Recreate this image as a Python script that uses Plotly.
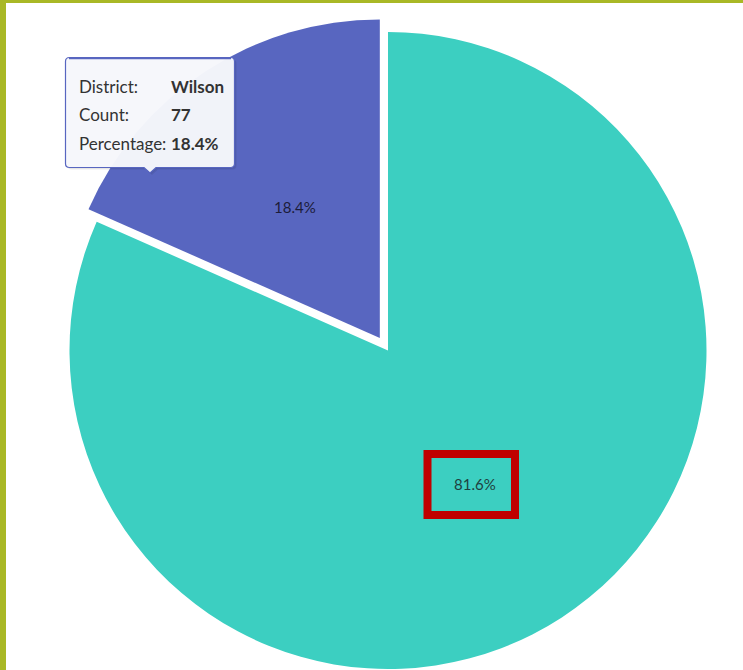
import math
import plotly.graph_objects as go

# Data (drawn clockwise from 12 o'clock, in this order)
districts = ["Other", "Wilson"]
counts = [342, 77]
slice_colors = ["#3ccfc1", "#5866c0"]

W, H = 743, 670
total = sum(counts)
pct = [c / total for c in counts]
hi = districts.index("Wilson")


def px(x):
    return x / W


def py(y):
    return 1 - y / H


# Pie geometry (pixels)
cx, cy, r = 388.0, 350.5, 318.5
pull_px = 15.0

# Mid-angle of the highlighted slice, measured clockwise from 12 o'clock
start = sum(pct[:hi]) * 2 * math.pi
mid = start + pct[hi] * math.pi
ux, uy = math.sin(mid), -math.cos(mid)
dx, dy = ux * pull_px, uy * pull_px

base_domain = dict(x=[px(cx - r), px(cx + r)], y=[py(cy + r), py(cy - r)])
pulled_domain = dict(x=[px(cx + dx - r), px(cx + dx + r)],
                     y=[py(cy + dy + r), py(cy + dy - r)])

common = dict(
    labels=districts,
    values=counts,
    sort=False,
    direction="clockwise",
    rotation=0,
    textposition="inside",
    insidetextorientation="horizontal",
    hoverinfo="skip",
    showlegend=False,
)

clear = "rgba(0,0,0,0)"
fig = go.Figure()
# main body of the pie, highlighted slice left empty
fig.add_trace(go.Pie(
    **common,
    domain=base_domain,
    marker=dict(colors=[clear if i == hi else c for i, c in enumerate(slice_colors)],
                line=dict(width=0)),
    texttemplate=["" if i == hi else "%{percent:.1%}" for i in range(len(counts))],
    textfont=dict(family="Lato", size=15, color="#1f3f40"),
))
# highlighted slice, pulled out from the centre (its label is placed below)
fig.add_trace(go.Pie(
    **common,
    domain=pulled_domain,
    marker=dict(colors=[c if i == hi else clear for i, c in enumerate(slice_colors)],
                line=dict(width=0)),
    textinfo="none",
))

shapes = []
# frame bars on the left and top edges
frame = "#a9b826"
shapes.append(dict(type="rect", xref="paper", yref="paper", x0=0, x1=px(6), y0=0, y1=1,
                   fillcolor=frame, line=dict(width=0), layer="above"))
shapes.append(dict(type="rect", xref="paper", yref="paper", x0=0, x1=1, y0=py(3), y1=1,
                   fillcolor=frame, line=dict(width=0), layer="above"))

# highlight box around the large slice label
shapes.append(dict(type="rect", xref="paper", yref="paper",
                   x0=px(427.5), x1=px(515), y0=py(515), y1=py(454),
                   line=dict(color="#c00000", width=8), fillcolor=clear,
                   layer="above"))


def tooltip_path(x0, y0, x1, y1, rad, tip_x, tip_y, tip_w, ox=0.0, oy=0.0):
    x0 += ox; x1 += ox; y0 += oy; y1 += oy; tip_x += ox; tip_y += oy
    p = f"M {px(x0 + rad)},{py(y0)} L {px(x1 - rad)},{py(y0)} "
    p += f"Q {px(x1)},{py(y0)} {px(x1)},{py(y0 + rad)} "
    p += f"L {px(x1)},{py(y1 - rad)} Q {px(x1)},{py(y1)} {px(x1 - rad)},{py(y1)} "
    p += f"L {px(tip_x + tip_w)},{py(y1)} L {px(tip_x)},{py(tip_y)} L {px(tip_x - tip_w)},{py(y1)} "
    p += f"L {px(x0 + rad)},{py(y1)} Q {px(x0)},{py(y1)} {px(x0)},{py(y1 - rad)} "
    p += f"L {px(x0)},{py(y0 + rad)} Q {px(x0)},{py(y0)} {px(x0 + rad)},{py(y0)} Z"
    return p


tt = dict(x0=65.5, y0=57.5, x1=234.5, y1=167.5, rad=4, tip_x=150, tip_y=173, tip_w=6)
for i, a in enumerate([0.05, 0.08]):
    shapes.append(dict(type="path", xref="paper", yref="paper",
                       path=tooltip_path(**tt, ox=1 + i, oy=1 + i),
                       fillcolor=f"rgba(0,0,0,{a})", line=dict(width=0), layer="above"))
shapes.append(dict(type="path", xref="paper", yref="paper", path=tooltip_path(**tt),
                   fillcolor="rgba(247,248,252,0.97)",
                   line=dict(color=slice_colors[hi], width=1.2), layer="above"))
shapes.append(dict(type="path", xref="paper", yref="paper",
                   path=f"M {px(69)},{py(58.2)} L {px(231)},{py(58.2)}",
                   line=dict(color=slice_colors[hi], width=2), layer="above"))

annotations = []
# label of the pulled slice, halfway out along its mid-angle
lab_r = 0.49 * r
annotations.append(dict(
    x=px(cx + dx + ux * lab_r), y=py(cy + dy + uy * lab_r),
    xref="paper", yref="paper", text=f"{pct[hi] * 100:.1f}%", showarrow=False,
    xanchor="center", yanchor="middle",
    font=dict(family="Lato", size=15, color="#1c1c3a"),
))

rows = [("District:", districts[hi]),
        ("Count:", str(counts[hi])),
        ("Percentage:", f"{pct[hi] * 100:.1f}%")]
for i, (k, v) in enumerate(rows):
    yy = 86 + i * 28.5
    annotations.append(dict(x=px(77), y=py(yy), xref="paper", yref="paper",
                            text=k, showarrow=False, xanchor="left", yanchor="middle",
                            font=dict(family="Lato", size=17, color="#333333")))
    annotations.append(dict(x=px(169), y=py(yy), xref="paper", yref="paper",
                            text=f"<b>{v}</b>", showarrow=False, xanchor="left",
                            yanchor="middle",
                            font=dict(family="Lato", size=17, color="#333333")))

fig.update_layout(
    width=W, height=H,
    margin=dict(l=0, r=0, t=0, b=0),
    paper_bgcolor="white",
    plot_bgcolor="white",
    shapes=shapes,
    annotations=annotations,
)

fig.write_html("out.html")
